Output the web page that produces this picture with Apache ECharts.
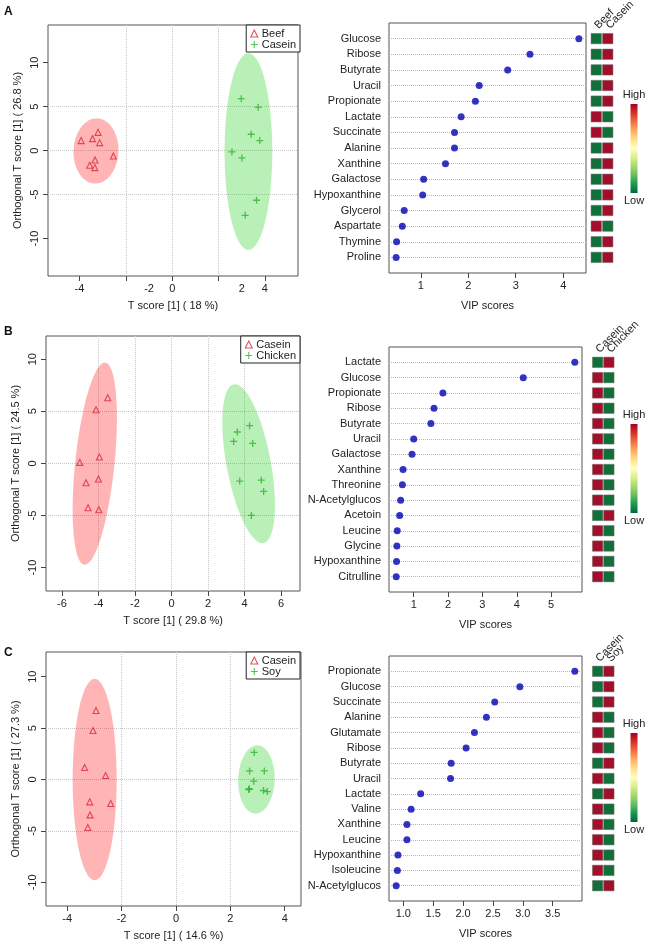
<!DOCTYPE html>
<html>
<head>
<meta charset="utf-8">
<script src="https://cdn.jsdelivr.net/npm/echarts@6/dist/echarts.min.js"></script>
<style>
  html, body { margin: 0; padding: 0; background: #fff; }
  #chart { width: 650px; height: 948px; }
</style>
</head>
<body>
<div id="chart"></div>
<script>
// ---- panel A : Beef vs Casein ----
const aBeefX = [-3.93, -3.44, -3.20, -3.13, -3.33, -3.56, -3.34, -2.54];
const aBeefY = [1.14, 1.36, 2.08, 0.91, -1.06, -1.67, -1.93, -0.61];
const aCaseinX = [2.98, 3.71, 3.41, 3.78, 2.58, 3.01, 3.64, 3.15];
const aCaseinY = [5.91, 4.92, 1.86, 1.14, -0.15, -0.83, -5.64, -7.35];
// ellipse: centre x, centre y, semi-axis a (x,y), conjugate semi-axis b (x,y)
const aBeefEllipse = [-3.29, -0.04, 0.03, 3.71, 0.97, 0];
const aCaseinEllipse = [3.29, -0.11, 0, 11.17, 1.03, 0];
const aMetab = ['Glucose', 'Ribose', 'Butyrate', 'Uracil', 'Propionate', 'Lactate', 'Succinate', 'Alanine',
  'Xanthine', 'Galactose', 'Hypoxanthine', 'Glycerol', 'Aspartate', 'Thymine', 'Proline'];
const aVip = [4.33, 3.30, 2.83, 2.23, 2.15, 1.85, 1.71, 1.71, 1.52, 1.06, 1.04, 0.65, 0.61, 0.49, 0.48];
const aHighBeef = [0, 0, 0, 0, 0, 1, 1, 0, 0, 0, 0, 0, 1, 0, 0];
const aHighCasein = [1, 1, 1, 1, 1, 0, 0, 1, 1, 1, 1, 1, 0, 1, 1];
const aXTickVals = [-4, -2, 0, 2, 4];
const aXLabelVals = [-4, -1, 0, 3, 4];
const aXLabelText = ['-4', '-2', '0', '2', '4'];
const aVipTicks = [1, 2, 3, 4];

// ---- panel B : Casein vs Chicken ----
const bCaseinX = [-3.49, -4.13, -3.95, -5.02, -4.00, -4.68, -4.57, -3.98];
const bCaseinY = [6.30, 5.15, 0.61, 0.10, -1.50, -1.86, -4.26, -4.45];
const bChickenX = [4.27, 3.60, 3.40, 4.44, 3.73, 4.91, 5.04, 4.37];
const bChickenY = [3.62, 3.01, 2.11, 1.92, -1.70, -1.60, -2.69, -4.99];
const bCaseinEllipse = [-4.2, -0.03, 0.55, 9.7, 1.08, 0];
const bChickenEllipse = [4.22, -0.03, -0.75, 7.62, 1.23, 0];
const bMetab = ['Lactate', 'Glucose', 'Propionate', 'Ribose', 'Butyrate', 'Uracil', 'Galactose', 'Xanthine',
  'Threonine', 'N-Acetylglucos', 'Acetoin', 'Leucine', 'Glycine', 'Hypoxanthine', 'Citrulline'];
const bVip = [5.69, 4.19, 1.85, 1.59, 1.50, 1.00, 0.95, 0.69, 0.67, 0.62, 0.59, 0.52, 0.51, 0.50, 0.49];
const bHighCasein = [0, 1, 1, 1, 1, 1, 1, 1, 1, 1, 0, 1, 1, 1, 1];
const bHighChicken = [1, 0, 0, 0, 0, 0, 0, 0, 0, 0, 1, 0, 0, 0, 0];
const bXTickVals = [-6, -4, -2, 0, 2, 4, 6];
const bVipTicks = [1, 2, 3, 4, 5];

// ---- panel C : Casein vs Soy ----
const cCaseinX = [-2.94, -3.05, -3.36, -2.59, -3.17, -2.40, -3.16, -3.24];
const cCaseinY = [6.71, 4.76, 1.17, 0.39, -2.17, -2.33, -3.44, -4.67];
const cSoyX = [2.88, 2.71, 3.25, 2.86, 2.68, 2.70, 3.22, 3.36];
const cSoyY = [2.63, 0.84, 0.84, -0.16, -0.97, -0.90, -1.07, -1.17];
const cCaseinEllipse = [-2.99, 0.0, 0, 9.8, 0.81, 0];
const cSoyEllipse = [2.96, 0.0, 0.03, 3.32, 0.67, 0];
const cMetab = ['Propionate', 'Glucose', 'Succinate', 'Alanine', 'Glutamate', 'Ribose', 'Butyrate', 'Uracil',
  'Lactate', 'Valine', 'Xanthine', 'Leucine', 'Hypoxanthine', 'Isoleucine', 'N-Acetylglucos'];
const cVip = [3.87, 2.95, 2.53, 2.39, 2.19, 2.05, 1.80, 1.79, 1.29, 1.13, 1.06, 1.06, 0.91, 0.90, 0.88];
const cHighCasein = [0, 0, 0, 1, 1, 1, 0, 1, 0, 1, 1, 1, 1, 1, 0];
const cHighSoy = [1, 1, 1, 0, 0, 0, 1, 0, 1, 0, 0, 0, 0, 0, 1];
const cXTickVals = [-4, -2, 0, 2, 4];
const cVipTicks = [1.0, 1.5, 2.0, 2.5, 3.0, 3.5];

const yTickVals = [-10, -5, 0, 5, 10];

const FONT = 'Liberation Sans, Arial, sans-serif';
const TXT = '#222';
const RED_PT = '#d8283c';
const GREEN_PT = '#2bb52b';
const HIGH = '#a30e2c';
const LOW = '#11703a';
const PLUS = 'path://M0,4L8,4M4,0L4,8';

let chart = echarts.init(document.getElementById('chart'), null, { renderer: 'canvas' });

function zip(xs, ys) {
    return xs.map(function (x, i) { return [x, ys[i]]; });
}

function rows(names) {
    // blank slots at both ends, like R's dotchart (ylim 0 .. n+1)
    return [''].concat(names, [' ']);
}

function ellipseSeries(name, idx, e, fill) {
    return {
        type: 'custom', name: name, xAxisIndex: idx, yAxisIndex: idx, z: 1, silent: true,
        data: [e],
        renderItem: function (params, api) {
            let pts = [];
            for (let k = 0; k < 90; k++) {
                let t = k / 90 * Math.PI * 2;
                pts.push(api.coord([
                    api.value(0) + Math.cos(t) * api.value(2) + Math.sin(t) * api.value(4),
                    api.value(1) + Math.cos(t) * api.value(3) + Math.sin(t) * api.value(5)
                ]));
            }
            return { type: 'polygon', shape: { points: pts }, style: { fill: fill } };
        }
    };
}

function triSeries(name, idx, xs, ys) {
    return {
        type: 'scatter', name: name, xAxisIndex: idx, yAxisIndex: idx, z: 3,
        symbol: 'triangle', symbolSize: 6,
        itemStyle: { color: 'rgba(0,0,0,0)', borderColor: RED_PT, borderWidth: 1.1 },
        data: zip(xs, ys)
    };
}

function plusSeries(name, idx, xs, ys) {
    return {
        type: 'scatter', name: name, xAxisIndex: idx, yAxisIndex: idx, z: 3,
        symbol: PLUS, symbolSize: 7,
        itemStyle: { color: 'rgba(0,0,0,0)', borderColor: GREEN_PT, borderWidth: 1.3 },
        data: zip(xs, ys)
    };
}

function dotSeries(idx, vip) {
    return {
        type: 'scatter', xAxisIndex: idx, yAxisIndex: idx, symbolSize: 7,
        itemStyle: { color: '#0000b4' },
        data: vip.map(function (v, i) { return [v, i + 1]; })
    };
}

function heatSeries(idx, col0, col1) {
    let data = [];
    col0.forEach(function (h, i) { data.push([0, i + 1, h]); });
    col1.forEach(function (h, i) { data.push([1, i + 1, h]); });
    return {
        type: 'scatter', xAxisIndex: idx, yAxisIndex: idx, symbol: 'rect', symbolSize: [10.4, 10.4],
        itemStyle: {
            color: function (p) { return p.value[2] ? HIGH : LOW; },
            borderColor: '#6a6a6a', borderWidth: 0.5, opacity: 1
        },
        data: data
    };
}

function scoreX(idx, min, max, tickVals, labelVals, labelText, name) {
    return {
        gridIndex: idx, type: 'value', min: min, max: max,
        name: name, nameLocation: 'middle', nameGap: 24,
        nameTextStyle: { fontSize: 11, color: TXT, fontFamily: FONT },
        axisLine: { show: false, onZero: false },
        axisTick: { show: true, length: 5, customValues: tickVals, lineStyle: { color: '#444' } },
        axisLabel: {
            customValues: labelVals, fontSize: 11, color: TXT, margin: 7, fontFamily: FONT,
            formatter: function (v) {
                let k = labelVals.indexOf(v);
                return k >= 0 ? labelText[k] : '';
            }
        },
        splitLine: { show: true, showMinLine: false, showMaxLine: false,
            lineStyle: { type: 'dotted', color: '#c8c8c8', width: 1 } }
    };
}

function scoreY(idx, min, max, name) {
    return {
        gridIndex: idx, type: 'value', min: min, max: max,
        name: name, nameLocation: 'middle', nameGap: 25,
        nameTextStyle: { fontSize: 11, color: TXT, fontFamily: FONT },
        axisLine: { show: false, onZero: false },
        axisTick: { show: true, length: 5, customValues: yTickVals, lineStyle: { color: '#444' } },
        axisLabel: { customValues: yTickVals, rotate: 90, fontSize: 11, color: TXT, margin: 8, fontFamily: FONT },
        splitLine: { show: true, showMinLine: false, showMaxLine: false,
            lineStyle: { type: 'dotted', color: '#c8c8c8', width: 1 } }
    };
}

function vipX(idx, min, max, ticks, decimals) {
    return {
        gridIndex: idx, type: 'value', min: min, max: max,
        name: 'VIP scores', nameLocation: 'middle', nameGap: 27,
        nameTextStyle: { fontSize: 11, color: TXT, fontFamily: FONT },
        axisLine: { show: false, onZero: false },
        axisTick: { show: true, length: 5, customValues: ticks, lineStyle: { color: '#444' } },
        axisLabel: { customValues: ticks, fontSize: 11, color: TXT, margin: 7, fontFamily: FONT,
            formatter: function (v) { return v.toFixed(decimals); } },
        splitLine: { show: false }
    };
}

function vipY(idx, names) {
    return {
        gridIndex: idx, type: 'category', data: rows(names), inverse: true, boundaryGap: false,
        axisLine: { show: false, onZero: false }, axisTick: { show: false },
        axisLabel: { interval: 0, fontSize: 11, color: TXT, margin: 8, fontFamily: FONT },
        splitLine: {
            show: true,
            interval: function (i) { return i > 0 && i <= names.length; },
            lineStyle: { type: 'dotted', color: '#b8b8b8', width: 1 }
        }
    };
}

function heatX(idx, groups) {
    return {
        gridIndex: idx, type: 'category', data: groups, position: 'top', boundaryGap: true,
        axisLine: { show: false, onZero: false }, axisTick: { show: false }, splitLine: { show: false },
        axisLabel: { interval: 0, rotate: -45, align: 'left', verticalAlign: 'middle',
            fontSize: 11, color: TXT, margin: -4, fontFamily: FONT }
    };
}

function heatY(idx, names) {
    return { gridIndex: idx, type: 'category', data: rows(names), inverse: true, boundaryGap: false, show: false };
}

function box(left, top, width, height) {
    return { left: left, top: top, width: width, height: height, show: true,
        borderColor: '#555', borderWidth: 1, backgroundColor: 'transparent', outerBoundsMode: 'none' };
}

function bare(left, top, width, height) {
    return { left: left, top: top, width: width, height: height, show: false, outerBoundsMode: 'none' };
}

function legendFor(top, names) {
    return {
        data: names, orient: 'vertical', right: 350, top: top,
        backgroundColor: '#fff', borderColor: '#222', borderWidth: 1, borderRadius: 0,
        padding: [3, 4, 2, 4], itemGap: 0, itemWidth: 7, itemHeight: 7,
        itemStyle: { borderWidth: 1.1 },
        textStyle: { fontSize: 11, color: TXT, fontFamily: FONT, lineHeight: 10, padding: [0, 0, 0, -1] },
        formatter: function (n) { return n.split(':')[1]; },
        selectedMode: false
    };
}

function colorBar(top) {
    return [
        { type: 'rect', shape: { x: 630.5, y: top, width: 7, height: 89 },
          style: { fill: new echarts.graphic.LinearGradient(0, 0, 0, 1, [
              { offset: 0, color: '#a50026' }, { offset: 0.1, color: '#d73027' },
              { offset: 0.2, color: '#f46d43' }, { offset: 0.3, color: '#fdae61' },
              { offset: 0.4, color: '#fee08b' }, { offset: 0.5, color: '#ffffbf' },
              { offset: 0.6, color: '#d9ef8b' }, { offset: 0.7, color: '#a6d96a' },
              { offset: 0.8, color: '#66bd63' }, { offset: 0.9, color: '#1a9850' },
              { offset: 1, color: '#006837' }]) } },
        { type: 'text', x: 634, y: top - 9, style: { text: 'High', fill: TXT, font: '11px ' + FONT,
            align: 'center', verticalAlign: 'middle' } },
        { type: 'text', x: 634, y: top + 97, style: { text: 'Low', fill: TXT, font: '11px ' + FONT,
            align: 'center', verticalAlign: 'middle' } }
    ];
}

function letter(t, y) {
    return { type: 'text', x: 4, y: y, style: { text: t, fill: '#111', font: 'bold 12px ' + FONT,
        verticalAlign: 'middle' } };
}

let option = {
    animation: false,
    backgroundColor: '#fff',
    textStyle: { fontFamily: FONT },
    grid: [
        box(48, 25, 250, 251), box(389, 23, 197, 250), bare(590.5, 23, 23, 250),
        box(46, 336, 254, 255), box(389, 347, 193, 245), bare(592, 347, 22.5, 245),
        box(46, 652, 255, 254), box(389, 656, 193, 245), bare(592, 656, 22.5, 245)
    ],
    xAxis: [
        scoreX(0, -5.36, 5.43, aXTickVals, aXLabelVals, aXLabelText, 'T score [1] ( 18 %)'),
        vipX(1, 0.33, 4.48, aVipTicks, 0),
        heatX(2, ['Beef', 'Casein']),
        scoreX(3, -6.87, 7.03, bXTickVals, bXTickVals, bXTickVals.map(String), 'T score [1] ( 29.8 %)'),
        vipX(4, 0.28, 5.90, bVipTicks, 0),
        heatX(5, ['Casein', 'Chicken']),
        scoreX(6, -4.78, 4.60, cXTickVals, cXTickVals, cXTickVals.map(String), 'T score [1] ( 14.6 %)'),
        vipX(7, 0.76, 3.99, cVipTicks, 1),
        heatX(8, ['Casein', 'Soy'])
    ],
    yAxis: [
        scoreY(0, -14.25, 14.28, 'Orthogonal T score [1] ( 26.8 %)'),
        vipY(1, aMetab),
        heatY(2, aMetab),
        scoreY(3, -12.24, 12.22, 'Orthogonal T score [1] ( 24.5 %)'),
        vipY(4, bMetab),
        heatY(5, bMetab),
        scoreY(6, -12.3, 12.4, 'Orthogonal T score [1] ( 27.3 %)'),
        vipY(7, cMetab),
        heatY(8, cMetab)
    ],
    legend: [
        legendFor(25, ['A:Beef', 'A:Casein']),
        legendFor(336, ['B:Casein', 'B:Chicken']),
        legendFor(652, ['C:Casein', 'C:Soy'])
    ],
    series: [
        ellipseSeries('A beef ellipse', 0, aBeefEllipse, 'rgba(255,0,0,0.29)'),
        ellipseSeries('A casein ellipse', 0, aCaseinEllipse, 'rgba(20,205,20,0.30)'),
        triSeries('A:Beef', 0, aBeefX, aBeefY),
        plusSeries('A:Casein', 0, aCaseinX, aCaseinY),
        dotSeries(1, aVip),
        heatSeries(2, aHighBeef, aHighCasein),

        ellipseSeries('B casein ellipse', 3, bCaseinEllipse, 'rgba(255,0,0,0.29)'),
        ellipseSeries('B chicken ellipse', 3, bChickenEllipse, 'rgba(20,205,20,0.30)'),
        triSeries('B:Casein', 3, bCaseinX, bCaseinY),
        plusSeries('B:Chicken', 3, bChickenX, bChickenY),
        dotSeries(4, bVip),
        heatSeries(5, bHighCasein, bHighChicken),

        ellipseSeries('C casein ellipse', 6, cCaseinEllipse, 'rgba(255,0,0,0.29)'),
        ellipseSeries('C soy ellipse', 6, cSoyEllipse, 'rgba(20,205,20,0.30)'),
        triSeries('C:Casein', 6, cCaseinX, cCaseinY),
        plusSeries('C:Soy', 6, cSoyX, cSoyY),
        dotSeries(7, cVip),
        heatSeries(8, cHighCasein, cHighSoy)
    ],
    graphic: [letter('A', 12), letter('B', 332), letter('C', 653)]
        .concat(colorBar(104), colorBar(424), colorBar(733))
};

chart.setOption(option);

window.addEventListener('resize', function () { chart.resize(); });
</script>
</body>
</html>
